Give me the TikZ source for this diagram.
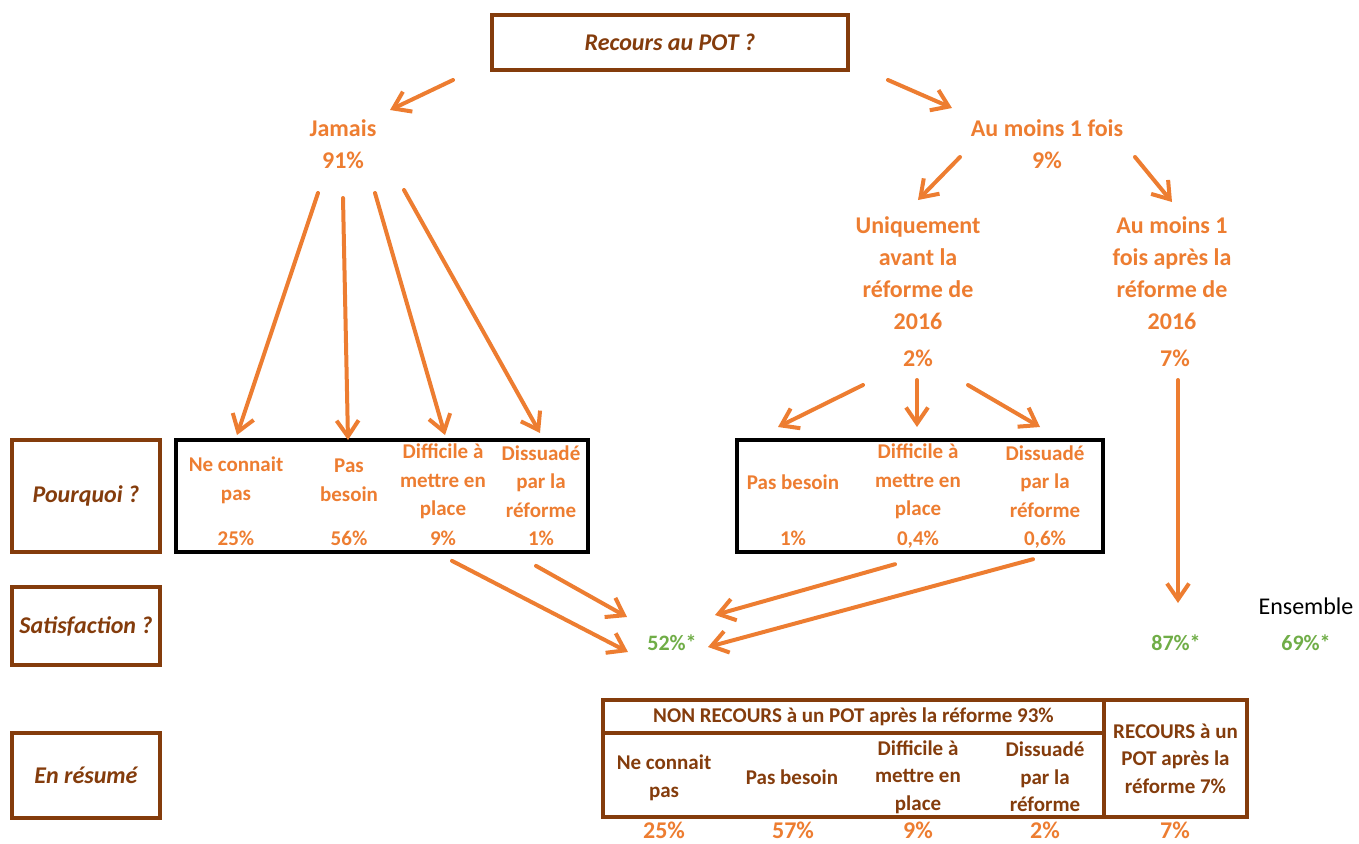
\documentclass[tikz,border=0pt]{standalone}
\usepackage{fontspec}
\setmainfont{Carlito}
\usepackage{tikz}
\usetikzlibrary{arrows.meta}
\usepackage{xcolor}
\definecolor{potorange}{RGB}{237, 125, 49}
\definecolor{potbrown}{RGB}{132, 60, 12}
\definecolor{potgreen}{RGB}{112, 173, 71}

\begin{document}
\begin{tikzpicture}[x=0.5pt, y=-0.5pt,
  lbl/.style={font=\bfseries\fontsize{12}{16}\selectfont, text=potorange, align=center, inner sep=0pt},
  cell/.style={font=\bfseries\fontsize{10.5}{14.25}\selectfont, text=potorange, align=center, inner sep=0pt},
  pct/.style={cell, anchor=base},
  rescell/.style={cell, text=potbrown, font=\bfseries\fontsize{10.5}{13.75}\selectfont},
  sidebox/.style={draw=potbrown, line width=1.75pt, minimum width=74pt, inner sep=0pt, font=\bfseries\itshape\fontsize{12}{14}\selectfont, text=potbrown},
  blackbox/.style={draw=black, line width=2pt, inner sep=0pt},
  restab/.style={draw=potbrown, line width=1.75pt, inner sep=0pt},
  satpct/.style={font=\bfseries\fontsize{11}{13}\selectfont, text=potgreen, inner sep=0pt},
  arr/.style={draw=potorange, line width=2pt, line cap=round, -{Straight Barb[length=8pt, width=11pt]}}]
\useasboundingbox (0,0) rectangle (1359,843);

% question boxes
\node[sidebox, minimum width=178pt, minimum height=27.5pt] (top) at (670,42.5) {Recours au POT ?};
\node[sidebox, minimum height=56pt] (pourquoi) at (86,496) {Pourquoi ?};
\node[sidebox, minimum height=39pt] (satis) at (86,626) {Satisfaction ?};
\node[sidebox, minimum height=42.5pt] (resume) at (86,775.5) {En résumé};

% tree
\node[lbl] (jamais) at (343,144.5) {Jamais\\91\%};
\node[lbl] (aumoins) at (1047,144) {Au moins 1 fois\\9\%};
\node[lbl] (avant) at (918,273.5) {Uniquement\\avant la\\réforme de\\2016};
\node[lbl] (apres) at (1172,273.5) {Au moins 1\\fois après la\\réforme de\\2016};
\node[lbl] (pavant) at (918,358) {2\%};
\node[lbl] (papres) at (1175,358) {7\%};

% reasons, never used
\node[blackbox, minimum width=206pt, minimum height=56pt] (whyjam) at (382,496) {};
\node[cell] (jam1) at (236,480.5) {Ne connait\\pas};
\node[cell] (jam2) at (349,480.5) {Pas\\besoin};
\node[cell] (jam3) at (443,481.5) {Difficile à\\mettre en\\place};
\node[cell] (jam4) at (541,481.5) {Dissuadé\\par la\\réforme};
\node[pct] (pjam1) at (236,545) {25\%};
\node[pct] (pjam2) at (349,545) {56\%};
\node[pct] (pjam3) at (443,545) {9\%};
\node[pct] (pjam4) at (541,545) {1\%};

% reasons, only before 2016
\node[blackbox, minimum width=183pt, minimum height=56pt] (whyonce) at (920,496) {};
\node[cell] (once1) at (793,482) {Pas besoin};
\node[cell] (once2) at (918,481.5) {Difficile à\\mettre en\\place};
\node[cell] (once3) at (1045,481.5) {Dissuadé\\par la\\réforme};
\node[pct] (ponce1) at (793,545) {1\%};
\node[pct] (ponce2) at (918,545) {0,4\%};
\node[pct] (ponce3) at (1045,545) {0,6\%};

% satisfaction
\node[satpct] (s52) at (672,643) {52\%*};
\node[satpct] (s87) at (1176,643) {87\%*};
\node[satpct] (s69) at (1306,643) {69\%*};
\node[font=\fontsize{12}{14}\selectfont, inner sep=0pt] (ens) at (1306,606) {Ensemble};

% summary table
\node[restab, rescell, minimum width=250.5pt, minimum height=16.5pt] (nonhead) at (853.5,716.5) {NON RECOURS à un POT après la réforme 93\%};
\node[restab, minimum width=250.5pt, minimum height=42pt] (nonrow) at (853.5,775) {};
\node[restab, rescell, minimum width=71.5pt, minimum height=58.5pt] (recours) at (1175.5,758.5) {RECOURS à un\\POT après la\\réforme 7\%};
\node[rescell] (res1) at (664,778) {Ne connait\\pas};
\node[rescell] (res2) at (792,777) {Pas besoin};
\node[rescell] (res3) at (918,777) {Difficile à\\mettre en\\place};
\node[rescell] (res4) at (1045,777) {Dissuadé\\par la\\réforme};
\node[lbl, anchor=base] (pres1) at (664,838) {25\%};
\node[lbl, anchor=base] (pres2) at (793,838) {57\%};
\node[lbl, anchor=base] (pres3) at (918,838) {9\%};
\node[lbl, anchor=base] (pres4) at (1045,838) {2\%};
\node[lbl, anchor=base] (pres5) at (1175,838) {7\%};

% arrows
\draw[arr] ([shift={(-217,37.5)}]top.center) -- ([shift={(47,-34.5)}]jamais.center);
\draw[arr] ([shift={(218,37.5)}]top.center) -- ([shift={(-95,-36)}]aumoins.center);
\draw[arr] ([shift={(-87,13)}]aumoins.center) -- ([shift={(0,-73.5)}]avant.center);
\draw[arr] ([shift={(88,13)}]aumoins.center) -- ([shift={(0,-71.5)}]apres.center);
\draw[arr] ([shift={(-25,48.5)}]jamais.center) -- ([shift={(1,-45.5)}]jam1.center);
\draw[arr] ([shift={(0,53.5)}]jamais.center) -- ([shift={(-1,-40.5)}]jam2.center);
\draw[arr] ([shift={(32,48.5)}]jamais.center) -- ([shift={(2,-46.5)}]jam3.center);
\draw[arr] ([shift={(61,45.5)}]jamais.center) -- ([shift={(-1,-48.5)}]jam4.center);
\draw[arr] ([shift={(-55,27)}]pavant.center) -- ([shift={(-15,-55)}]once1.center);
\draw[arr] ([shift={(-1,22)}]pavant.center) -- ([shift={(-1,-54.5)}]once2.center);
\draw[arr] ([shift={(50,27)}]pavant.center) -- ([shift={(-5,-54.5)}]once3.center);
\draw[arr] ([shift={(3,22)}]papres.center) -- ([shift={(2,-40)}]s87.center);
\draw[arr] ([shift={(9,23)}]pjam3.center) -- ([shift={(-44,9)}]s52.center);
\draw[arr] ([shift={(-5,28)}]pjam4.center) -- ([shift={(-45,-26)}]s52.center);
\draw[arr] ([shift={(-23,25)}]ponce2.center) -- ([shift={(43,-28)}]s52.center);
\draw[arr] ([shift={(-12,20)}]ponce3.center) -- ([shift={(36,4)}]s52.center);
\end{tikzpicture}
\end{document}
